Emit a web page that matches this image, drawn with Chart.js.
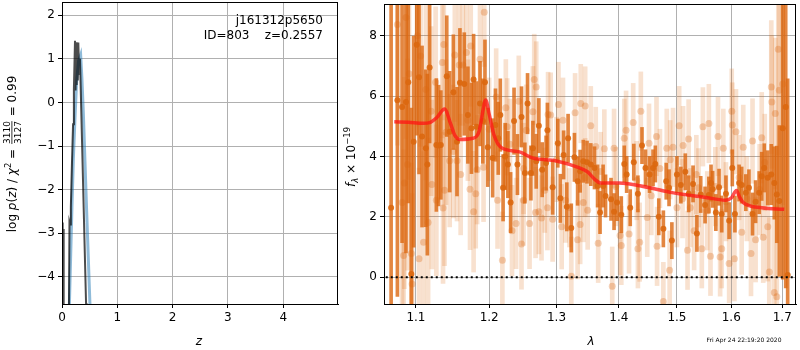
<!DOCTYPE html>
<html>
<head>
<meta charset="utf-8">
<script src="https://cdn.jsdelivr.net/npm/chart.js@4/dist/chart.umd.min.js"></script>
<style>
body { margin: 0; background: #fff; }
#wrap { position: relative; width: 800px; height: 350px; }
#pzChart { position: absolute; left: 0; top: 0; }
#specChart { position: absolute; left: 340px; top: 0; }
</style>
</head>
<body>
<div id="wrap">
  <canvas id="pzChart" width="340" height="350"></canvas>
  <canvas id="specChart" width="460" height="350"></canvas>
</div>
<script>
// left panel: log p(z)
const pzDarkZ = [0.0, 0.008, 0.016, 0.022, 0.03, 0.04, 0.12, 0.135, 0.145, 0.16, 0.18, 0.2, 0.215, 0.235, 0.245, 0.255, 0.265, 0.275, 0.285, 0.295, 0.31, 0.325, 0.435, 0.45]
const pzDarkLog = [-6, -2.75, -6, -2.9, -6, -6, -6, -2.75, -2.8, -2.4, -1.4, -0.5, 0.3, 1.41, 0.27, 1.38, 0.4, 1.35, 0.5, 1.37, 0.65, 1.0, -4.61, -5.5]
const pzBlueZ = [0.13, 0.155, 0.18, 0.205, 0.235, 0.265, 0.30, 0.337, 0.36, 0.386, 0.415, 0.446, 0.475, 0.506, 0.53]
const pzBlueLog = [-4.8, -3.6, -2.4, -1.3, -0.35, 0.5, 0.95, 1.09, 0.55, -0.25, -1.35, -2.5, -3.55, -4.65, -5.5]
const zTicks = [0, 1, 2, 3, 4]
const logTicks = [-4, -3, -2, -1, 0, 1, 2]

// right panel: spectrum
const darkWave = [1.068,1.076,1.082,1.087,1.090,1.094,1.097,1.101,1.104,1.108,
  1.113,1.115,1.118,1.127,1.130,1.133,1.141,1.145,1.150,1.155,
  1.159,1.165,1.170,1.175,1.178,1.182,1.187,1.191,1.194,1.198,
  1.205,1.209,1.213,1.216,1.220,1.223,1.227,1.231,1.236,1.241,
  1.247,1.252,1.256,1.261,1.264,1.269,1.273,1.278,1.284,1.286,
  1.294,1.302,1.306,1.311,1.316,1.318,1.323,1.328,1.333,1.337,
  1.342,1.348,1.354,1.360,1.365,1.369,1.374,1.378,1.387,1.392,
  1.397,1.404,1.409,1.413,1.419,1.425,1.432,1.439,1.445,1.452,
  1.458,1.462,1.468,1.476,1.481,1.486,1.491,1.500,1.507,1.515,
  1.521,1.529,1.536,1.543,1.551,1.558,1.562,1.565,1.571,1.577,
  1.582,1.590,1.596,1.602,1.607,1.615,1.620,1.628,1.634,1.641,
  1.647,1.654,1.659,1.664,1.671,1.678,1.684,1.689,1.694,1.701,
  1.707,1.711]
const darkFlux = [2.30,5.86,5.64,5.80,6.46,0.10,4.49,7.70,6.62,4.66,
  4.27,3.73,6.95,4.38,4.36,4.38,6.66,4.82,6.13,4.49,
  6.44,6.40,5.37,4.93,6.55,4.98,5.75,5.17,6.46,4.30,
  3.95,5.04,4.60,5.37,2.96,4.00,3.73,2.47,5.17,3.73,
  5.31,3.45,5.75,3.45,4.27,3.84,5.02,3.56,3.78,4.87,
  2.98,4.44,2.61,4.05,2.33,4.60,1.63,3.97,3.18,3.51,
  3.84,3.81,3.73,3.62,3.02,2.14,3.02,2.69,2.58,2.17,
  2.47,2.07,3.75,3.40,2.30,3.81,2.76,4.36,3.62,3.40,
  3.62,3.75,2.00,1.60,3.18,2.96,1.21,3.40,3.05,3.49,
  2.76,3.09,1.45,2.74,2.39,2.72,3.12,2.91,2.14,2.98,
  2.09,2.76,1.87,3.62,2.09,3.12,3.05,2.80,2.96,2.09,
  2.50,2.80,3.34,3.62,3.29,3.40,3.12,2.74,2.52,4.93,
  5.64,0.07]
const darkErr = [7.0,6.5,4.5,5.0,4.0,5.5,3.5,3.0,3.2,3.0,
  2.6,3.0,2.5,2.2,2.0,1.8,2.0,2.0,1.9,1.8,
  1.8,1.7,1.6,1.5,1.5,1.5,1.4,1.4,1.4,1.3,
  1.3,1.2,1.2,1.2,1.1,1.1,1.1,1.0,1.1,1.0,
  1.0,1.0,1.0,0.9,0.9,0.9,0.9,0.9,0.9,0.9,
  0.9,0.8,0.8,0.8,0.8,0.8,0.8,0.8,0.8,0.7,
  0.7,0.7,0.7,0.7,0.7,0.7,0.7,0.7,0.7,0.6,
  0.6,0.6,0.6,0.6,0.6,0.6,0.6,0.6,0.6,0.6,
  0.6,0.6,0.6,0.6,0.6,0.6,0.6,0.6,0.6,0.6,
  0.6,0.6,0.6,0.6,0.6,0.6,0.6,0.6,0.6,0.6,
  0.6,0.6,0.6,0.6,0.6,0.6,0.6,0.6,0.6,0.7,
  0.7,0.7,0.8,0.8,0.9,1.0,1.2,1.6,2.5,5.0,
  6.0,6.5]

const lightWave = [1.076,1.082,1.084,1.085,1.087,1.089,1.091,1.094,1.095,1.102,
  1.104,1.106,1.110,1.113,1.116,1.121,1.126,1.127,1.135,1.136,
  1.137,1.138,1.145,1.150,1.152,1.155,1.158,1.160,1.163,1.168,
  1.173,1.174,1.178,1.181,1.183,1.187,1.192,1.193,1.210,1.212,
  1.219,1.224,1.226,1.233,1.239,1.243,1.247,1.250,1.254,1.259,
  1.264,1.266,1.268,1.269,1.273,1.277,1.282,1.286,1.287,1.291,
  1.294,1.303,1.308,1.310,1.314,1.320,1.323,1.329,1.333,1.337,
  1.338,1.342,1.345,1.349,1.354,1.362,1.366,1.376,1.389,1.392,
  1.402,1.404,1.409,1.412,1.417,1.424,1.432,1.435,1.437,1.448,
  1.451,1.464,1.465,1.476,1.482,1.487,1.488,1.493,1.500,1.504,
  1.511,1.519,1.521,1.524,1.531,1.539,1.545,1.547,1.558,1.561,
  1.575,1.579,1.582,1.585,1.596,1.601,1.602,1.606,1.609,1.620,
  1.623,1.638,1.641,1.647,1.659,1.662,1.671,1.674,1.678,1.679,
  1.684,1.686,1.689,1.692,1.694,1.701,
  1.120,1.140,1.170,1.200,1.230,1.250,1.300,1.345,1.370,1.395,
  1.430,1.455,1.470,1.510,1.535,1.555,1.570,1.590,1.615,1.630,
  1.655,1.665]
const lightFlux = [8.37,2.47,0.72,3.12,8.60,3.73,6.74,0.78,-0.23,8.00,
  0.61,7.33,1.16,6.22,1.81,3.07,6.46,2.55,7.11,2.29,
  7.71,2.88,3.86,4.16,7.36,3.86,7.03,3.40,7.03,7.44,
  2.91,7.66,2.17,2.76,3.56,7.22,3.64,8.78,5.97,2.55,
  0.56,5.61,4.98,1.54,1.78,5.83,1.10,2.55,4.87,1.78,
  5.48,6.55,2.14,6.30,2.17,1.96,2.88,2.30,5.39,5.37,
  1.92,5.72,1.67,5.20,2.55,2.30,0.03,5.45,1.24,1.74,
  5.75,2.47,5.67,2.22,5.02,4.33,1.12,4.25,-0.30,4.27,
  1.38,1.05,4.60,4.87,1.43,5.12,0.94,1.16,5.50,1.98,
  4.44,4.66,1.02,-0.81,4.27,0.23,3.89,4.30,2.30,5.02,
  4.36,0.89,4.58,2.30,1.54,2.96,0.94,4.98,5.09,0.69,
  4.66,0.67,0.94,4.27,0.45,5.50,5.04,0.61,4.82,1.49,
  4.30,0.78,4.51,1.24,4.62,1.32,1.67,0.17,6.30,5.80,
  -0.51,5.42,-0.65,7.55,6.19,6.40,
  5.50,4.80,5.20,4.90,4.40,3.60,3.90,3.30,3.50,3.00,
  3.20,2.70,3.60,2.60,3.40,2.20,3.00,2.50,3.30,2.60,
  2.90,3.80]
const lightErr = [4.0,3.5,3.5,3.5,4.0,3.5,3.5,3.0,3.0,3.0,
  3.0,3.0,3.0,3.0,2.8,2.8,2.5,2.5,2.5,2.5,
  2.5,2.5,2.2,2.2,2.2,2.0,2.0,2.0,2.0,2.0,
  2.0,2.0,2.0,1.8,1.8,1.8,1.8,1.8,1.6,1.6,
  1.6,1.6,1.6,1.5,1.5,1.5,1.5,1.5,1.5,1.5,
  1.5,1.5,1.5,1.5,1.4,1.4,1.4,1.4,1.4,1.4,
  1.4,1.4,1.4,1.4,1.4,1.3,1.3,1.3,1.3,1.3,
  1.3,1.3,1.3,1.3,1.3,1.3,1.3,1.3,1.3,1.3,
  1.3,1.3,1.3,1.3,1.3,1.3,1.3,1.3,1.3,1.3,
  1.3,1.3,1.3,1.3,1.3,1.3,1.3,1.3,1.3,1.3,
  1.3,1.3,1.3,1.3,1.3,1.3,1.3,1.3,1.3,1.3,
  1.3,1.3,1.3,1.3,1.3,1.4,1.4,1.4,1.4,1.4,
  1.4,1.4,1.4,1.4,1.5,1.5,1.8,1.8,2.2,2.2,
  2.5,2.5,3.0,3.5,3.5,4.0,
  2.8,2.4,2.0,1.7,1.5,1.5,1.4,1.3,1.3,1.3,
  1.3,1.3,1.3,1.3,1.3,1.3,1.3,1.3,1.4,1.4,
  1.5,1.6]

const modelWave = [1.072,1.09,1.11,1.118,1.128,1.138,1.146,1.152,1.159,1.177,1.186,1.191,1.195,1.2,1.207,1.217,1.244,1.263,1.30,1.336,1.348,1.36,1.370,1.40,1.45,1.4916,1.55,1.589,1.60,1.610,1.616,1.623,1.659,1.704]
const modelFlux = [5.15,5.13,5.1,5.12,5.3,5.57,5.1,4.7,4.56,4.6,4.85,5.5,5.87,5.4,4.7,4.3,4.15,3.95,3.85,3.62,3.5,3.25,3.12,3.12,2.97,2.8,2.65,2.55,2.62,2.87,2.65,2.47,2.3,2.25]
const waveTicks = [1.1, 1.2, 1.3, 1.4, 1.5, 1.6, 1.7]
const fluxTicks = [0, 2, 4, 6, 8]

Chart.defaults.font.family = '"DejaVu Sans"'
Chart.defaults.font.size = 12
Chart.defaults.color = '#000'

const orange = 'rgba(220,104,16,'
const minus = v => String(v).replace('-', '\u2212')

// black box round the plot area
const frame = {
  id: 'frame',
  afterDraw(chart) {
    const a = chart.chartArea, ctx = chart.ctx
    ctx.save()
    ctx.strokeStyle = '#000'
    ctx.lineWidth = 1
    ctx.strokeRect(Math.round(a.left) + 0.5, Math.round(a.top) + 0.5, Math.round(a.right - a.left) - 1, Math.round(a.bottom - a.top))
    ctx.restore()
  }
}

// rotated label made of pieces (italic, sub/superscripts, fraction)
function drawPieces(ctx, parts, cx, cy) {
  ctx.save()
  ctx.translate(cx, cy)
  ctx.rotate(-Math.PI / 2)
  ctx.fillStyle = '#000'
  ctx.textBaseline = 'alphabetic'
  let total = 0
  parts.forEach(p => {
    ctx.font = p.font
    p.w = p.frac ? Math.max(ctx.measureText(p.num).width, ctx.measureText(p.den).width) + 2 : ctx.measureText(p.text).width
    total += p.w
  })
  let x = -total / 2
  parts.forEach(p => {
    ctx.font = p.font
    if (p.frac) {
      ctx.textAlign = 'center'
      ctx.fillText(p.num, x + p.w / 2, -6)
      ctx.fillText(p.den, x + p.w / 2, 5)
      ctx.fillRect(x + 1, -4.5, p.w - 2, 0.8)
      ctx.textAlign = 'left'
    } else {
      ctx.textAlign = 'left'
      ctx.fillText(p.text, x, p.dy || 0)
    }
    x += p.w
  })
  ctx.restore()
}

const N = '12px "DejaVu Sans"'
const I = 'italic 12px "DejaVu Sans"'
const S = '8.5px "DejaVu Sans"'
const F = '9px "DejaVu Sans"'
const SI = 'italic 8.5px "DejaVu Sans"'

const pzText = {
  id: 'pzText',
  afterDraw(chart) {
    const ctx = chart.ctx
    drawPieces(ctx, [
      {text: 'log ', font: N}, {text: 'p', font: I}, {text: '(', font: N}, {text: 'z', font: I},
      {text: ') / ', font: N}, {text: '\u03c7', font: I}, {text: '2', font: S, dy: -5},
      {text: ' = ', font: N}, {frac: true, num: '3110', den: '3127', font: F}, {text: ' = 0.99', font: N}
    ], 16, 154)
    ctx.save()
    ctx.fillStyle = '#000'
    ctx.font = N
    ctx.textAlign = 'right'
    ctx.fillText('j161312p5650', 323, 24)
    ctx.fillText('ID=803    z=0.2557', 323, 39)
    ctx.textAlign = 'center'
    ctx.font = I
    ctx.fillText('z', 199, 345)
    ctx.restore()
  }
}

const specText = {
  id: 'specText',
  afterDraw(chart) {
    const ctx = chart.ctx
    drawPieces(ctx, [
      {text: 'f', font: I}, {text: '\u03bb', font: SI, dy: 3}, {text: ' \u00d7 10', font: N}, {text: '\u221219', font: S, dy: -5}
    ], 15, 157)
    ctx.save()
    ctx.fillStyle = '#000'
    ctx.textAlign = 'center'
    ctx.font = I
    ctx.fillText('\u03bb', 251, 345)
    ctx.font = '6px "DejaVu Sans"'
    ctx.fillText('Fri Apr 24 22:19:20 2020', 404, 342)
    ctx.restore()
  }
}

function axisStyle(extra) {
  return Object.assign({
    bounds: 'data',
    offset: false,
    grid: {color: '#b0b0b0', lineWidth: 1, tickColor: '#000', tickLength: 4, offset: false},
    border: {display: true, color: '#000', width: 1},
    ticks: {color: '#000', padding: 3, maxRotation: 0, autoSkip: false}
  }, extra)
}

const xFit = h => s => { s.height = h; s.paddingLeft = 0; s.paddingRight = 0 }
const yFit = w => s => { s.width = w; s.paddingTop = 0; s.paddingBottom = 0 }

new Chart(document.getElementById('pzChart'), {
  type: 'line',
  data: {
    datasets: [
      {data: pzDarkZ.map((z, i) => ({x: z, y: pzDarkLog[i]})), borderColor: 'rgba(0,0,0,0.7)', borderWidth: 2, pointRadius: 0, order: 0},
      {data: pzBlueZ.map((z, i) => ({x: z, y: pzBlueLog[i]})), borderColor: 'rgba(31,119,180,0.5)', borderWidth: 3, pointRadius: 0, order: 1}
    ]
  },
  options: {
    responsive: false,
    animation: false,
    events: [],
    layout: {padding: {top: 2, right: 2, left: 0, bottom: 0}},
    plugins: {legend: {display: false}, tooltip: {enabled: false}},
    scales: {
      x: axisStyle({type: 'linear', min: 0, max: 4.99,
        afterBuildTicks: s => { s.ticks = zTicks.map(v => ({value: v})) },
        afterFit: xFit(46)}),
      y: axisStyle({type: 'linear', min: -4.62, max: 2.3,
        afterBuildTicks: s => { s.ticks = logTicks.map(v => ({value: v})) },
        afterFit: yFit(62),
        ticks: {color: '#000', padding: 3, callback: v => minus(v)}})
    }
  },
  plugins: [frame, pzText]
})

new Chart(document.getElementById('specChart'), {
  type: 'scatter',
  data: {
    datasets: [
      {type: 'line', data: [{x: 1.0, y: 0}, {x: 1.8, y: 0}], borderColor: '#000', borderWidth: 2, borderDash: [2, 3], pointRadius: 0, order: 0},
      {type: 'line', data: modelWave.map((w, i) => ({x: w, y: modelFlux[i]})), borderColor: 'rgba(255,20,20,0.75)', borderWidth: 3.5, pointRadius: 0, cubicInterpolationMode: 'monotone', order: 1},
      {type: 'scatter', data: darkWave.map((w, i) => ({x: w, y: darkFlux[i]})), backgroundColor: orange + '0.9)', borderWidth: 0, pointRadius: 3, order: 2},
      {type: 'bar', data: darkWave.map((w, i) => ({x: w, y: [darkFlux[i] - darkErr[i], darkFlux[i] + darkErr[i]]})), backgroundColor: orange + '0.8)', borderWidth: 0, barThickness: 3, grouped: false, order: 3},
      {type: 'scatter', data: lightWave.map((w, i) => ({x: w, y: lightFlux[i]})), backgroundColor: orange + '0.3)', borderWidth: 0, pointRadius: 3.5, order: 4},
      {type: 'bar', data: lightWave.map((w, i) => ({x: w, y: [lightFlux[i] - lightErr[i], lightFlux[i] + lightErr[i]]})), backgroundColor: orange + '0.2)', borderWidth: 0, barThickness: 4, grouped: false, order: 5}
    ]
  },
  options: {
    responsive: false,
    animation: false,
    events: [],
    layout: {padding: {top: 2, right: 2, left: 0, bottom: 0}},
    plugins: {legend: {display: false}, tooltip: {enabled: false}},
    scales: {
      x: axisStyle({type: 'logarithmic', min: 1.059, max: 1.728,
        afterBuildTicks: s => { s.ticks = waveTicks.map(v => ({value: v})) },
        afterFit: xFit(46),
        ticks: {color: '#000', padding: 3, maxRotation: 0, autoSkip: false, callback: v => Number(v).toFixed(1)}}),
      y: axisStyle({type: 'linear', min: -0.89, max: 9.05,
        afterBuildTicks: s => { s.ticks = fluxTicks.map(v => ({value: v})) },
        afterFit: yFit(44),
        ticks: {color: '#000', padding: 3, callback: v => minus(v)}})
    }
  },
  plugins: [frame, specText]
})
</script>
</body>
</html>
